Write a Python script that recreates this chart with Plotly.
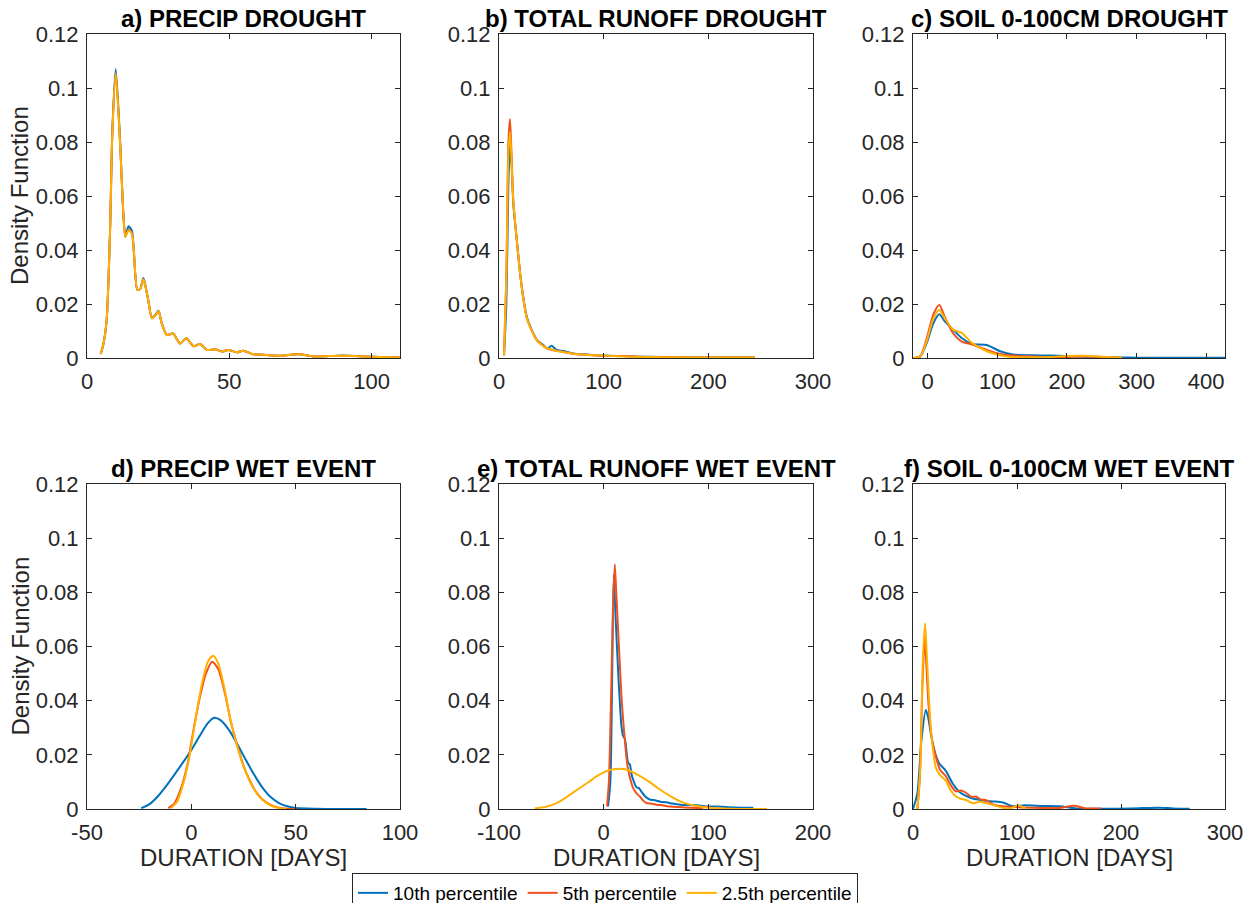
import plotly.graph_objects as go

W, H = 1252, 903
BLUE, RED, YEL = "#0072BD", "#F2501B", "#FFB000"
SERIES = ["10th percentile", "5th percentile", "2.5th percentile"]
FONT = "Liberation Sans, Arial, Helvetica, sans-serif"

# ---------------- panel a) PRECIP DROUGHT ----------------
xa = [4.8, 5.7, 6.9, 8.1, 8.9, 10.1, 11.6, 12.8, 13.5, 14.6, 15.8, 17.7, 18.7, 19.8, 20.6, 21.6,
      22.8, 24.0, 25.1, 26.3, 28.1, 30.2, 32.7, 34.9, 37.4, 39.8, 42.1, 45.1, 47.4, 49.7, 52.7,
      55.0, 58.0, 63.0, 68.0, 74.4, 79.6, 85.0, 90.0, 97.0, 103.0, 110.0]
ya_10 = [0.0015, 0.0048, 0.014, 0.047, 0.084, 0.107, 0.081, 0.053, 0.045, 0.0488, 0.047, 0.0252,
         0.0256, 0.0296, 0.0265, 0.021, 0.0148, 0.016, 0.0175, 0.0128, 0.0085, 0.0091, 0.0054,
         0.0073, 0.0044, 0.0052, 0.003, 0.0032, 0.0024, 0.003, 0.0021, 0.0027, 0.0015, 0.0011,
         0.0008, 0.0014, 0.0006, 0.0007, 0.0009, 0.0006, 0.0004, 0.0002]
ya_5 = [0.0015, 0.0048, 0.014, 0.047, 0.083, 0.1055, 0.080, 0.053, 0.045, 0.0476, 0.046, 0.0252,
        0.0255, 0.0292, 0.0262, 0.021, 0.0147, 0.0158, 0.0173, 0.0127, 0.0085, 0.0091, 0.0054,
        0.0073, 0.0044, 0.0052, 0.003, 0.0032, 0.0024, 0.003, 0.0021, 0.0027, 0.0015, 0.0011,
        0.0008, 0.0015, 0.0006, 0.0007, 0.0008, 0.0006, 0.0004, 0.0002]
ya_25 = [0.0015, 0.0048, 0.014, 0.047, 0.083, 0.1055, 0.080, 0.053, 0.045, 0.0472, 0.046, 0.0252,
         0.0255, 0.0292, 0.0262, 0.021, 0.0147, 0.0158, 0.0173, 0.0127, 0.0085, 0.0091, 0.0054,
         0.0073, 0.0044, 0.0052, 0.003, 0.0032, 0.0024, 0.003, 0.0021, 0.0027, 0.0015, 0.0011,
         0.0008, 0.0014, 0.0006, 0.0007, 0.0008, 0.0006, 0.0004, 0.0002]

# ---------------- panel b) TOTAL RUNOFF DROUGHT ----------------
xb = [4.8, 7.0, 9.0, 10.5, 12.0, 13.7, 16.9, 20.0, 23.2, 26.4, 31.2, 36.0, 42.3, 46.0, 50.3,
      55.0, 61.4, 71.0, 83.8, 99.5, 118.6, 134.5, 155.0, 182.4, 215.0, 244.5]
yb_10 = [0.001, 0.02, 0.065, 0.079, 0.072, 0.057, 0.044, 0.032, 0.0225, 0.0155, 0.0105, 0.0068,
         0.0048, 0.0035, 0.0045, 0.003, 0.0026, 0.0017, 0.0013, 0.0009, 0.0007, 0.0005, 0.0004,
         0.0002, 0.0002, 0.0002]
yb_5 = [0.001, 0.03, 0.08, 0.0885, 0.075, 0.058, 0.044, 0.032, 0.022, 0.015, 0.0102, 0.0066,
        0.0045, 0.0036, 0.003, 0.0027, 0.0022, 0.0016, 0.0012, 0.0008, 0.0007, 0.0005, 0.0003,
        0.0002, 0.0002, 0.0002]
yb_25 = [0.001, 0.03, 0.076, 0.0838, 0.073, 0.058, 0.044, 0.032, 0.0222, 0.015, 0.0102, 0.0066,
         0.0044, 0.0036, 0.0032, 0.0026, 0.0022, 0.0016, 0.0012, 0.0009, 0.0006, 0.0004, 0.0003,
         0.0002, 0.0002, 0.0002]

# ---------------- panel c) SOIL 0-100CM DROUGHT ----------------
xc_10 = [-21, -11, -1.5, 8, 16.7, 25, 37, 49, 64, 85, 104, 123, 150, 176, 200, 224, 250, 279,
         300, 350, 400, 427]
yc_10 = [0.0, 0.0005, 0.0054, 0.0128, 0.0162, 0.0135, 0.0104, 0.0074, 0.0052, 0.0048, 0.0025,
         0.0013, 0.001, 0.0009, 0.0007, 0.0005, 0.0003, 0.0002, 0.0001, 0.0001, 0.0001, 0.0001]
xc = [-21, -11, -1.5, 8, 16.7, 25, 37, 49, 64, 85, 104, 123, 150, 176, 200, 224, 250, 279]
yc_5 = [0.0, 0.0006, 0.007, 0.016, 0.0196, 0.015, 0.009, 0.0061, 0.005, 0.003, 0.0015, 0.0009,
        0.0006, 0.0003, 0.0004, 0.0006, 0.0004, 0.0001]
yc_25 = [0.0, 0.0005, 0.006, 0.0145, 0.0178, 0.0145, 0.0104, 0.0093, 0.0055, 0.0025, 0.001,
         0.0003, 0.0003, 0.0004, 0.0007, 0.0008, 0.0005, 0.0001]

# ---------------- panel d) PRECIP WET EVENT ----------------
xd_10 = [-24, -20, -16, -12, -8, -4, 0, 4, 8, 11, 14, 18, 22, 26, 30, 34, 38, 42, 46, 50, 60, 70, 84]
yd_10 = [0.0003, 0.0018, 0.0047, 0.0085, 0.0128, 0.0172, 0.0218, 0.027, 0.0318, 0.0337, 0.0328,
         0.0292, 0.024, 0.0183, 0.0128, 0.008, 0.0044, 0.0022, 0.001, 0.0004, 0.0001, 0.0, 0.0]
xd_5 = [-11, -8, -5, -2, 1, 4, 7, 10, 13, 16, 19, 22, 25, 28, 31, 34, 38, 42, 46, 50]
yd_5 = [0.0003, 0.0022, 0.0075, 0.016, 0.029, 0.041, 0.05, 0.0544, 0.0515, 0.043, 0.032, 0.0235,
        0.016, 0.0105, 0.0063, 0.0036, 0.0015, 0.0005, 0.0001, 0.0]
xd_25 = [-10, -7, -4, -1, 2, 5, 8, 10.5, 13, 16, 19, 22, 25, 28, 31, 34, 38, 42, 45.5]
yd_25 = [0.0003, 0.0025, 0.009, 0.019, 0.033, 0.046, 0.0545, 0.0566, 0.0535, 0.044, 0.032,
         0.0232, 0.0158, 0.0102, 0.0062, 0.0034, 0.0013, 0.0004, 0.0]

# ---------------- panel e) TOTAL RUNOFF WET EVENT ----------------
xe_10 = [4.2, 6.4, 8, 9.6, 11.5, 13.8, 15.5, 17, 18.6, 20.2, 21.8, 23.4, 25, 26.5, 28, 31.3, 33.5,
         36.1, 40, 44, 47.8, 54.2, 60, 65.4, 75, 89, 100, 108, 125, 143]
ye_10 = [0.001, 0.01, 0.045, 0.0864, 0.07, 0.051, 0.039, 0.0305, 0.027, 0.026, 0.0215, 0.017,
         0.0165, 0.013, 0.011, 0.008, 0.0078, 0.0064, 0.0045, 0.0035, 0.0033, 0.0027, 0.0025,
         0.002, 0.0015, 0.0014, 0.0009, 0.0009, 0.0006, 0.0005]
xe_5 = [3.2, 5, 7, 9, 10.6, 12, 13.8, 15.5, 17, 18.6, 20.2, 21.8, 23.4, 25.8, 28.2, 31.4, 34.6,
        38, 41, 45, 50.6, 57, 63.5, 72, 82.7, 92, 98.7, 104]
ye_5 = [0.001, 0.01, 0.04, 0.075, 0.0904, 0.08, 0.066, 0.053, 0.0415, 0.033, 0.0255, 0.019,
        0.0145, 0.0105, 0.0077, 0.0058, 0.0046, 0.003, 0.0022, 0.002, 0.0016, 0.0013, 0.0009,
        0.0007, 0.0005, 0.0004, 0.0008, 0.0002]
xe_25 = [-66, -55, -45, -35, -25, -15, -5, 5, 14, 23, 33, 43, 53, 63, 73, 85, 100, 120, 140, 156]
ye_25 = [0.0002, 0.0008, 0.0022, 0.0045, 0.0072, 0.0098, 0.0125, 0.0143, 0.0149, 0.0144, 0.0125,
         0.0102, 0.0074, 0.0049, 0.0028, 0.0014, 0.0005, 0.0001, 0.0, 0.0]

# ---------------- panel f) SOIL 0-100CM WET EVENT ----------------
xf_10 = [0, 4.2, 8, 12.3, 14.5, 17.1, 21, 25.1, 31.6, 38, 44.5, 50, 57.4, 64, 70.3, 78, 86.4, 96,
         107, 125, 141, 157, 180, 210, 237.5, 250, 266]
yf_10 = [0.0, 0.0058, 0.025, 0.0366, 0.034, 0.028, 0.021, 0.0169, 0.0141, 0.0095, 0.0064, 0.005,
         0.0039, 0.0034, 0.003, 0.0028, 0.0024, 0.001, 0.0014, 0.0011, 0.001, 0.0002, 0.0001,
         0.0002, 0.0005, 0.0002, 0.0001]
xf_5 = [4.2, 6.5, 9, 11.3, 13, 15.5, 18.5, 22, 26, 31.6, 36, 41.3, 46, 51, 56, 60.6, 65, 70, 78,
        90, 105, 125, 140, 155, 165, 181]
yf_5 = [0.0, 0.011, 0.045, 0.0635, 0.052, 0.0354, 0.025, 0.0193, 0.0145, 0.0121, 0.009, 0.0065,
        0.0068, 0.006, 0.0045, 0.0046, 0.0035, 0.0033, 0.0015, 0.0009, 0.0006, 0.0004, 0.0004,
        0.0012, 0.0003, 0.0002]
xf_25 = [4.2, 7, 9.5, 11.6, 13.5, 15.5, 17, 19.5, 22, 26, 31.6, 36, 41.3, 46, 51, 57.5, 64, 70,
         77, 84, 90, 95, 101, 108]
yf_25 = [0.0, 0.015, 0.055, 0.0686, 0.055, 0.04, 0.0305, 0.021, 0.0153, 0.0125, 0.0104, 0.007,
         0.0046, 0.0038, 0.0033, 0.0021, 0.0027, 0.0022, 0.0015, 0.0007, 0.0002, 0.0004, 0.0014,
         0.0002]

TITLES = ["a) PRECIP DROUGHT", "b) TOTAL RUNOFF DROUGHT", "c) SOIL 0-100CM DROUGHT",
          "d) PRECIP WET EVENT", "e) TOTAL RUNOFF WET EVENT", "f) SOIL 0-100CM WET EVENT"]
XRANGES = [[0, 110], [0, 300], [-21, 427], [-50, 100], [-100, 200], [0, 300]]
XTICKS = [[0, 50, 100], [0, 100, 200, 300], [0, 100, 200, 300, 400],
          [-50, 0, 50, 100], [-100, 0, 100, 200], [0, 100, 200, 300]]
YTICKS = [0, 0.02, 0.04, 0.06, 0.08, 0.1, 0.12]
YTICKTEXT = ["0", "0.02", "0.04", "0.06", "0.08", "0.1", "0.12"]

panels = [
    [(xa, ya_10), (xa, ya_5), (xa, ya_25)],
    [(xb, yb_10), (xb, yb_5), (xb, yb_25)],
    [(xc_10, yc_10), (xc, yc_5), (xc, yc_25)],
    [(xd_10, yd_10), (xd_5, yd_5), (xd_25, yd_25)],
    [(xe_10, ye_10), (xe_5, ye_5), (xe_25, ye_25)],
    [(xf_10, yf_10), (xf_5, yf_5), (xf_25, yf_25)],
]

# axes pixel boxes (left, right), (top, bottom)
XPIX = [(87, 400), (499, 813), (913, 1225)]
YPIX = [(34, 358), (484, 809)]

fig = go.Figure()
colors = [BLUE, RED, YEL]
for i, series in enumerate(panels):
    suffix = "" if i == 0 else str(i + 1)
    for j, (xs, ys) in enumerate(series):
        fig.add_trace(go.Scatter(
            x=xs, y=ys, mode="lines", name=SERIES[j],
            line=dict(color=colors[j], width=2, shape="spline", smoothing=0.7),
            showlegend=(i == 0), legendrank=j + 1,
            xaxis="x" + suffix, yaxis="y" + suffix, hoverinfo="skip"))

axis_common = dict(showline=True, linecolor="#262626", linewidth=1, mirror="ticks",
                   ticks="inside", ticklen=5, tickcolor="#262626", tickwidth=1,
                   showgrid=False, zeroline=False, automargin=False,
                   tickfont=dict(family=FONT, size=22, color="#262626"))

annotations = []
for i in range(6):
    r, c = divmod(i, 3)
    l, rgt = XPIX[c]
    t, b = YPIX[r]
    xd = [l / W, rgt / W]
    yd = [1 - b / H, 1 - t / H]
    suffix = "" if i == 0 else str(i + 1)
    fig.layout["xaxis" + suffix] = dict(axis_common, domain=xd, range=XRANGES[i],
                                        tickvals=XTICKS[i],
                                        ticktext=[str(v) for v in XTICKS[i]],
                                        anchor="y" + suffix, ticklabelstandoff=4)
    fig.layout["yaxis" + suffix] = dict(axis_common, domain=yd, range=[0, 0.12],
                                        tickvals=YTICKS, ticktext=YTICKTEXT,
                                        anchor="x" + suffix, ticklabelstandoff=3)
    annotations.append(dict(text="<b>%s</b>" % TITLES[i], x=(l + rgt) / 2 / W, y=yd[1],
                            xref="paper", yref="paper", xanchor="center", yanchor="bottom",
                            showarrow=False, yshift=0,
                            font=dict(family=FONT, size=24, color="#000000")))
    if c == 0:
        annotations.append(dict(text="Density Function", x=20 / W, y=(yd[0] + yd[1]) / 2,
                                xref="paper", yref="paper", xanchor="center", yanchor="middle",
                                textangle=-90, showarrow=False,
                                font=dict(family=FONT, size=24, color="#262626")))
    if r == 1:
        annotations.append(dict(text="DURATION [DAYS]", x=(l + rgt) / 2 / W, y=1 - 857 / H,
                                xref="paper", yref="paper", xanchor="center", yanchor="middle",
                                showarrow=False,
                                font=dict(family=FONT, size=24, color="#262626")))

fig.update_layout(
    width=W, height=H,
    margin=dict(l=0, r=0, t=0, b=0, autoexpand=False),
    paper_bgcolor="white", plot_bgcolor="white",
    annotations=annotations,
    showlegend=True,
    legend=dict(orientation="h", x=352 / W, y=1 - 873 / H, xanchor="left", yanchor="top",
                bordercolor="#262626", borderwidth=1, bgcolor="white",
                font=dict(family=FONT, size=19, color="#000000"),
                traceorder="normal", itemwidth=30),
)

fig.write_html("out.html")
